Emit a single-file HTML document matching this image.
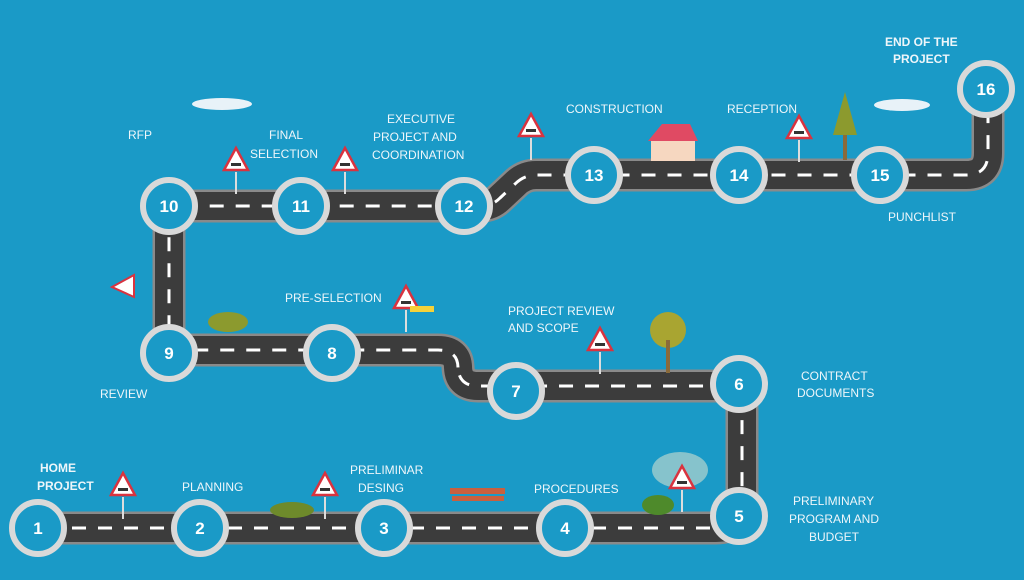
<!DOCTYPE html>
<html><head><meta charset="utf-8"><style>
html,body{margin:0;padding:0;background:#1a9ac7;}
svg{display:block}
text{font-family:"Liberation Sans",sans-serif;fill:#eef6fa;font-size:12px;}
.n{font-size:17px;font-weight:bold;fill:#fff;text-anchor:middle}
</style></head><body>
<svg width="1024" height="580" viewBox="0 0 1024 580">
<rect width="1024" height="580" fill="#1a9ac7"/>
<defs>
<path id="road" d="M20,528 H716 Q742,528 742,502 V410 Q742,386 718,386 H478 Q458,386 458,366 V368 Q458,350 438,350 H190 Q169,350 169,329 V227 Q169,206 190,206 H482 Q492,206 500,198 L515,184 Q524,175 536,175 H966 Q988,175 988,153 V89"/>
<g id="sign"><line x1="0" y1="0" x2="0" y2="22" stroke="#ddd" stroke-width="2"/><polygon points="0,-24 12,-2 -12,-2" fill="#fff" stroke="#d9333f" stroke-width="2.5"/><rect x="-5" y="-9" width="10" height="3" fill="#333"/></g>
</defs>
<g fill="none" stroke-linejoin="round">
<use href="#road" stroke="#8a8a8a" stroke-width="33"/>
<use href="#road" stroke="#3c3c3c" stroke-width="28"/>
<use href="#road" stroke="#fff" stroke-width="3" stroke-dasharray="14 12"/>
</g>
<!-- decorations -->
<use href="#sign" x="123" y="497"/><use href="#sign" x="325" y="497"/><use href="#sign" x="236" y="172"/><use href="#sign" x="345" y="172"/><use href="#sign" x="531" y="138"/><use href="#sign" x="799" y="140"/><use href="#sign" x="600" y="352"/><use href="#sign" x="406" y="310"/>
<ellipse cx="680" cy="470" rx="28" ry="18" fill="#cfe0cf" opacity="0.6"/>
<use href="#sign" x="682" y="490"/>
<polygon points="112,287 134,275 134,297" fill="#fff" stroke="#d9333f" stroke-width="2"/>
<rect x="410" y="306" width="24" height="6" fill="#f5d23a"/>
<rect x="651" y="141" width="44" height="20" fill="#f6d7c0"/><polygon points="648,141 662,124 690,124 698,141" fill="#e04a63"/>
<rect x="450" y="488" width="55" height="6" fill="#c8603f"/><rect x="452" y="496" width="52" height="5" fill="#c8603f"/>
<polygon points="845,92 833,135 857,135" fill="#8c9a2e"/><rect x="843" y="135" width="4" height="25" fill="#8a6a3a"/>
<ellipse cx="668" cy="330" rx="18" ry="18" fill="#a9a531"/><rect x="666" y="340" width="4" height="33" fill="#8a6a3a"/>
<ellipse cx="228" cy="322" rx="20" ry="10" fill="#8c9a2e"/>
<ellipse cx="292" cy="510" rx="22" ry="8" fill="#6e8a2b"/>
<ellipse cx="658" cy="505" rx="16" ry="10" fill="#4e8a2b"/>
<ellipse cx="222" cy="104" rx="30" ry="6" fill="#e8f2f8"/><ellipse cx="902" cy="105" rx="28" ry="6" fill="#e8f2f8"/>
<!-- nodes -->
<g fill="#1a9ac7" stroke="#d9d9d9" stroke-width="6">
<circle cx="38" cy="528" r="26"/><circle cx="200" cy="528" r="26"/><circle cx="384" cy="528" r="26"/><circle cx="565" cy="528" r="26"/><circle cx="739" cy="516" r="26"/><circle cx="739" cy="384" r="26"/><circle cx="516" cy="391" r="26"/><circle cx="332" cy="353" r="26"/><circle cx="169" cy="353" r="26"/><circle cx="169" cy="206" r="26"/><circle cx="301" cy="206" r="26"/><circle cx="464" cy="206" r="26"/><circle cx="594" cy="175" r="26"/><circle cx="739" cy="175" r="26"/><circle cx="880" cy="175" r="26"/><circle cx="986" cy="89" r="26"/>
</g>
<text class="n" x="38" y="534">1</text><text class="n" x="200" y="534">2</text><text class="n" x="384" y="534">3</text><text class="n" x="565" y="534">4</text><text class="n" x="739" y="522">5</text><text class="n" x="739" y="390">6</text><text class="n" x="516" y="397">7</text><text class="n" x="332" y="359">8</text><text class="n" x="169" y="359">9</text><text class="n" x="169" y="212">10</text><text class="n" x="301" y="212">11</text><text class="n" x="464" y="212">12</text><text class="n" x="594" y="181">13</text><text class="n" x="739" y="181">14</text><text class="n" x="880" y="181">15</text><text class="n" x="986" y="95">16</text>
<!-- labels -->
<g font-weight="bold"><text x="40" y="472">HOME</text><text x="37" y="490">PROJECT</text>
<text x="885" y="46">END OF THE</text><text x="893" y="63">PROJECT</text></g>
<text x="182" y="491">PLANNING</text>
<text x="350" y="474">PRELIMINAR</text><text x="358" y="492">DESING</text>
<text x="534" y="493">PROCEDURES</text>
<text x="793" y="505">PRELIMINARY</text><text x="789" y="523">PROGRAM AND</text><text x="809" y="541">BUDGET</text>
<text x="801" y="380">CONTRACT</text><text x="797" y="397">DOCUMENTS</text>
<text x="508" y="315">PROJECT REVIEW</text><text x="508" y="332">AND SCOPE</text>
<text x="285" y="302">PRE-SELECTION</text>
<text x="100" y="398">REVIEW</text>
<text x="128" y="139">RFP</text>
<text x="269" y="139">FINAL</text><text x="250" y="158">SELECTION</text>
<text x="387" y="123">EXECUTIVE</text><text x="373" y="141">PROJECT  AND</text><text x="372" y="159">COORDINATION</text>
<text x="566" y="113">CONSTRUCTION</text>
<text x="727" y="113">RECEPTION</text>
<text x="888" y="221">PUNCHLIST</text>
</svg>
</body></html>
